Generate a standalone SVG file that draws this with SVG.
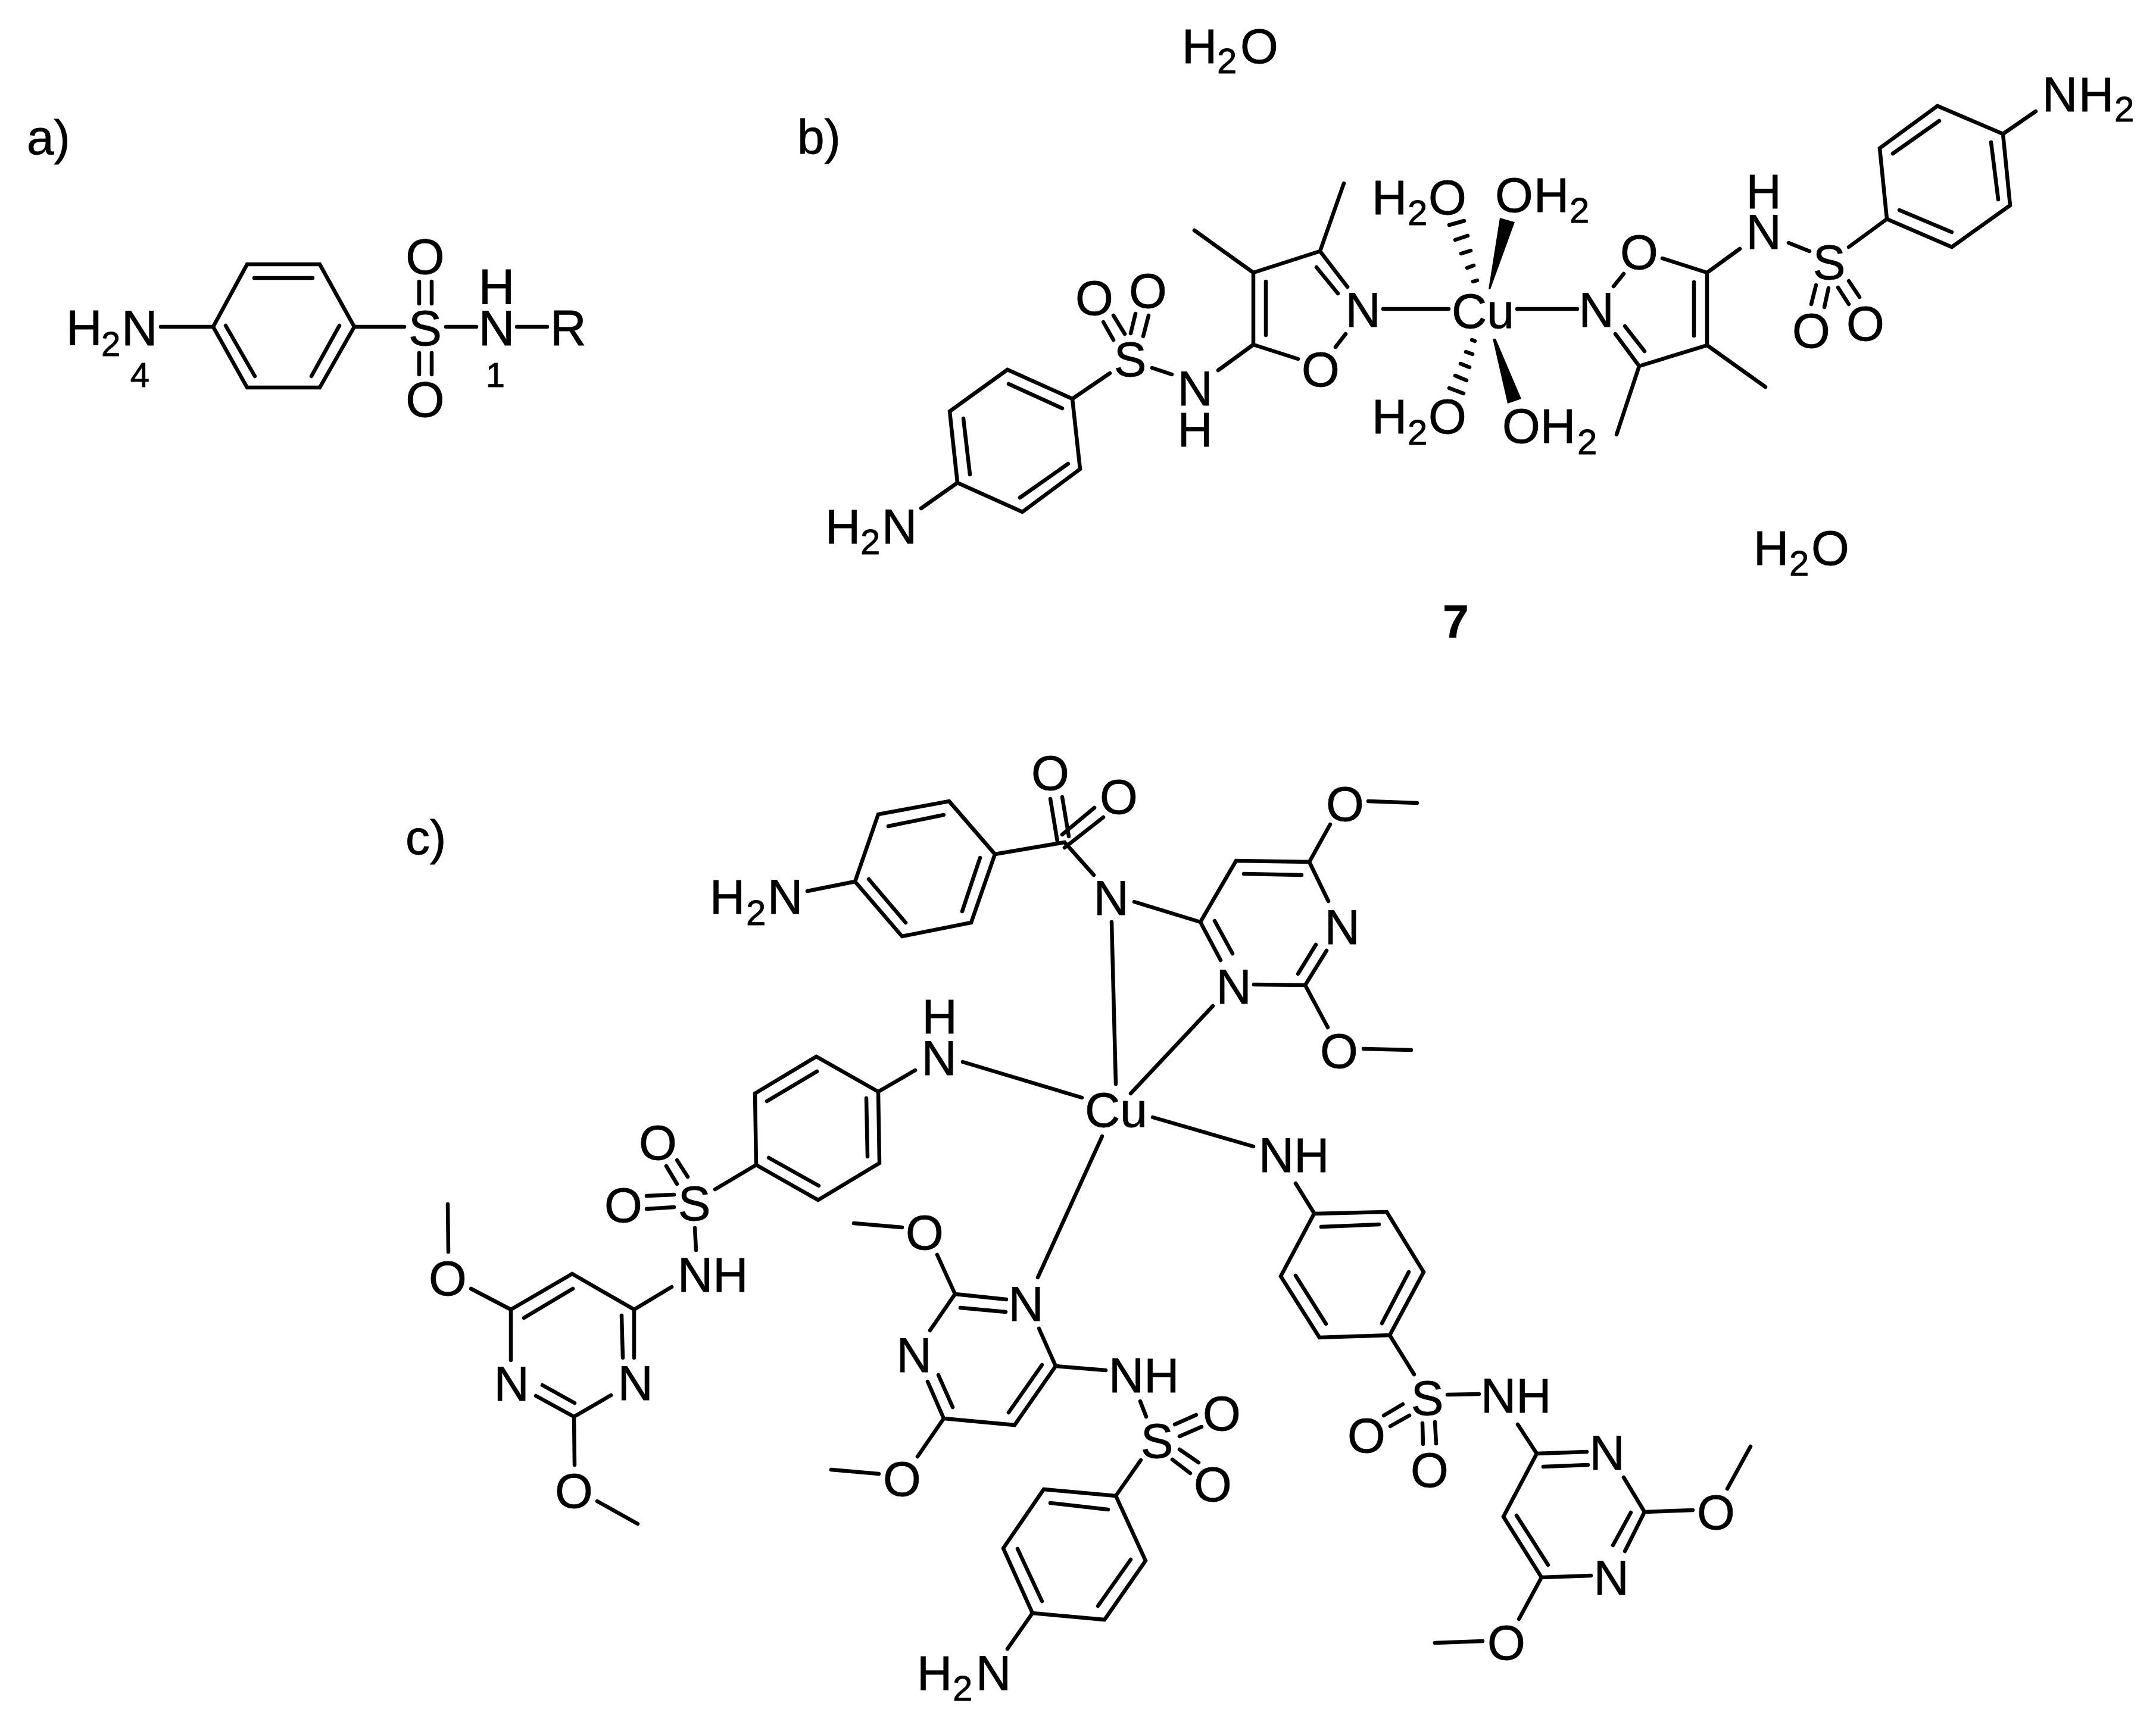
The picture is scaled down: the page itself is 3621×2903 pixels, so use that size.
<svg xmlns="http://www.w3.org/2000/svg" width="3621" height="2903" viewBox="0 0 3621 2903">
<style>
text{font-family:"Liberation Sans",Arial,sans-serif;font-size:82px;fill:#000;stroke:#000;stroke-width:.8}
.c{text-anchor:middle}
.a{font-size:84px}
.sub{font-size:60px}
.num{font-size:58px}
.bold{font-weight:700;font-size:78px}
#bonds path{fill:none;stroke:#000;stroke-width:6.5;stroke-linecap:round;stroke-linejoin:miter}
#bonds .fill{fill:#000;stroke:none}
</style>
<rect width="3621" height="2903" fill="#fff"/>
<g id="bonds">
<g id="bonds-a">
<path d="M358 549L415 444H537L595 549L537 651H415Z"/>
<path d="M427 467H525M379 547L428 632M570 547L523 632M270 549H358M595 549H679M749 549H800M868 549H919M704 473V510M725 473V510M704 593V629M725 593V629"/>
</g>
<g id="bonds-b">
<path d="M1692 621L1801 670L1814 788L1717 860L1608 811L1595 691Z"/>
<path d="M1694 645L1784 686M1618 703L1629 797M1713 836L1794 779M1608 811L1547 854M1801 670L1864 627M1853 541L1870 571M1870 530L1889 561M1907 527L1899 560M1929 530L1920 565M1935 618L1968 629M2046 622L2105 579"/>
<path d="M2180 603L2105 579V458L2217 422L2263 482M2211 449L2247 493M2126 473V563M2105 458L2006 387M2217 422L2257 308M2243 583L2260 561M2323 519H2433"/>
<path d="M2434 378L2459 371M2444 403L2465 396M2454 426L2470 421M2464 450L2475 446M2474 473L2481 471"/>
<path d="M2472 571L2477 573M2462 591L2473 595M2453 611L2468 617M2444 631L2463 639M2434 652L2458 661"/>
<path class="fill" d="M2500 486L2503 486L2544 373L2519 366Z"/>
<path class="fill" d="M2507 569L2512 569L2555 670L2532 678Z"/>
<path d="M2548 519H2649M2710 481L2727 460M2792 434L2867 458V580L2753 615L2713 561M2729 548L2762 590M2845 474V564M2867 580L2965 650M2753 615L2715 730M2867 458L2922 418M3004 408L3039 422M3105 415L3169 368"/>
<path d="M3169 368L3278 415L3376 345L3364 225L3254 178L3157 249Z"/>
<path d="M3190 353L3278 390M3356 335L3344 239M3179 258L3257 203M3364 225L3419 187M3050 479L3042 511M3071 484L3064 516M3087 483L3105 511M3105 472L3123 499"/>
</g>
<g id="bonds-c">
<path d="M1594 1346L1671 1435L1631 1550L1515 1573L1436 1481L1475 1368Z"/>
<path d="M1492 1388L1585 1369M1646 1441L1616 1531M1459 1477L1521 1550M1436 1481L1356 1497M1671 1435L1788 1415L1837 1470M1764 1342L1776 1414M1784 1339L1795 1405M1838 1357L1784 1402M1853 1373L1788 1424M1867 1549L1874 1821M1905 1515L2016 1549"/>
<path d="M2050 1613L2016 1549L2076 1446L2199 1448L2231 1514M2089 1468L2186 1470M2228 1597L2192 1655L2106 1654M2210 1587L2180 1636M2070 1602L2040 1547M2199 1448L2234 1385M2298 1346L2380 1349M2192 1655L2230 1726M2290 1762L2370 1764M2037 1690L1899 1837"/>
<path d="M1617 1784L1817 1844M1537 1798L1475 1834"/>
<path d="M1475 1834L1371 1775L1268 1837L1270 1957L1374 2016L1477 1954Z"/>
<path d="M1288 1850L1372 1800M1455 1845L1457 1943M1291 1945L1375 1992M1270 1957L1201 1998M1936 1877L2105 1926M2176 1988L2207 2038M1851 1909L1743 2146"/>
<path d="M1119 1959L1137 1989M1137 1949L1155 1977M1086 2009L1132 2007M1086 2031L1132 2028M1167 2063L1169 2100M1128 2162L1065 2200"/>
<path d="M1065 2281L1065 2200L961 2140L858 2200V2285M962 2165L880 2214M900 2345L964 2380L1026 2344M911 2327L965 2357M1044 2210L1046 2281M858 2200L791 2165M753 2103L752 2023M964 2380L965 2461M1003 2522L1071 2560"/>
<path d="M1690 2183L1604 2174L1562 2235M1613 2197L1689 2204M1558 2321L1585 2383L1704 2394L1773 2295L1745 2232M1576 2310L1600 2364M1694 2373L1750 2293M1773 2295L1857 2302M1434 2055L1515 2062M1574 2108L1604 2174M1585 2383L1541 2447M1396 2469L1476 2476M1915 2354L1925 2380M1973 2393L2009 2377M1981 2413L2018 2397M1981 2435L2013 2457M1969 2452L1999 2475M1916 2453L1874 2513"/>
<path d="M1874 2513L1753 2502L1685 2601L1734 2710L1855 2721L1924 2622Z"/>
<path d="M1764 2525L1861 2536M1709 2602L1750 2690M1844 2698L1899 2620M1734 2710L1692 2770"/>
<path d="M2207 2039L2329 2036L2391 2137L2334 2243L2216 2247L2151 2144Z"/>
<path d="M2219 2061L2316 2057M2366 2137L2321 2223M2176 2143L2227 2224M2334 2243L2375 2309M2431 2343L2484 2342M2324 2378L2356 2359M2335 2396L2367 2378M2389 2391L2390 2426M2410 2389L2412 2425M2549 2393L2581 2442"/>
<path d="M2665 2439L2581 2442L2525 2548L2589 2650L2672 2647M2592 2464L2667 2461M2727 2482L2762 2540L2729 2606M2762 2540L2843 2537M2901 2501L2940 2430M2739 2541L2709 2596M2547 2546L2600 2629M2589 2650L2551 2720M2410 2760L2490 2757"/>
</g>
</g>
<g id="part-a">
<g id="a-label"><text x="45" y="259">a)</text></g>
<g id="a-nh2"><text class="a" x="111" y="580">H<tspan class="num" x="170" y="598">2</tspan><tspan x="204" y="580">N</tspan></text></g>
<g id="a-4"><text class="num c" x="235" y="650">4</text></g>
<g id="a-s"><text class="a c" x="714" y="580">S</text></g>
<g id="a-o1"><text class="a c" x="714" y="460">O</text></g>
<g id="a-o2"><text class="a c" x="714" y="700">O</text></g>
<g id="a-h"><text class="a c" x="834" y="511">H</text></g>
<g id="a-n"><text class="a c" x="834" y="580">N</text></g>
<g id="a-1"><text class="num c" x="832" y="650">1</text></g>
<g id="a-r"><text class="a" x="924" y="580">R</text></g>
</g>
<g id="part-b">
<g id="b-label"><text x="1339" y="258">b)</text></g>
<g id="b-water1"><text x="1985" y="106">H<tspan class="sub" x="2044" y="123">2</tspan><tspan x="2083" y="106">O</tspan></text></g>
<g id="b-nh2-l"><text x="1386" y="913">H<tspan class="sub" x="1445" y="931">2</tspan><tspan x="1481" y="913">N</tspan></text></g>
<g id="b-s-l"><text class="c" x="1898" y="632">S</text></g>
<g id="b-o1"><text class="c" x="1838" y="529">O</text></g>
<g id="b-o2"><text class="c" x="1928" y="517">O</text></g>
<g id="b-n-l"><text class="c" x="2007" y="681">N</text></g>
<g id="b-h-l"><text class="c" x="2007" y="750">H</text></g>
<g id="b-o-l"><text class="c" x="2218" y="649">O</text></g>
<g id="b-n2-l"><text class="c" x="2289" y="549">N</text></g>
<g id="b-cu"><text x="2438" y="551">Cu</text></g>
<g id="b-h2o-ul"><text x="2304" y="360">H<tspan class="sub" x="2364" y="378">2</tspan><tspan x="2399" y="360">O</tspan></text></g>
<g id="b-h2o-ll"><text x="2304" y="728">H<tspan class="sub" x="2364" y="747">2</tspan><tspan x="2399" y="728">O</tspan></text></g>
<g id="b-oh2-u"><text x="2511" y="356">O<tspan x="2576">H</tspan><tspan class="sub" x="2636" y="374">2</tspan></text></g>
<g id="b-oh2-l"><text x="2523" y="744">O<tspan x="2587">H</tspan><tspan class="sub" x="2649" y="763">2</tspan></text></g>
<g id="b-n2-r"><text class="c" x="2681" y="549">N</text></g>
<g id="b-o-r"><text class="c" x="2753" y="452">O</text></g>
<g id="b-n-r"><text class="c" x="2962" y="418">N</text></g>
<g id="b-h-r"><text class="c" x="2962" y="350">H</text></g>
<g id="b-s-r"><text class="c" x="3072" y="469">S</text></g>
<g id="b-o3"><text class="c" x="3042" y="584">O</text></g>
<g id="b-o4"><text class="c" x="3133" y="572">O</text></g>
<g id="b-nh2-r"><text x="3430" y="187">N<tspan x="3491">H</tspan><tspan class="sub" x="3551" y="204">2</tspan></text></g>
<g id="b-water2"><text x="2945" y="949">H<tspan class="sub" x="3005" y="967">2</tspan><tspan x="3042" y="949">O</tspan></text></g>
<g id="b-7"><text class="bold c" x="2445" y="1071">7</text></g>
</g>
<g id="part-c">
<g id="c-label"><text x="681" y="1435">c)</text></g>
<g id="c-nh2-top"><text x="1192" y="1535">H<tspan class="sub" x="1253" y="1554">2</tspan><tspan x="1289" y="1535">N</tspan></text></g>
<g id="c-o1"><text class="c" x="1764" y="1327">O</text></g>
<g id="c-o2"><text class="c" x="1879" y="1367">O</text></g>
<g id="c-n1"><text class="c" x="1866" y="1537">N</text></g>
<g id="c-n2"><text class="c" x="2254" y="1586">N</text></g>
<g id="c-n3"><text class="c" x="2072" y="1686">N</text></g>
<g id="c-o3"><text class="c" x="2259" y="1379">O</text></g>
<g id="c-o4"><text class="c" x="2249" y="1794">O</text></g>
<g id="c-cu"><text x="1822" y="1893">Cu</text></g>
<g id="c-h5"><text class="c" x="1578" y="1736">H</text></g>
<g id="c-n5"><text class="c" x="1577" y="1806">N</text></g>
<g id="c-nh6"><text x="2114" y="1969">NH</text></g>
<g id="c-s-l"><text class="c" x="1166" y="2050">S</text></g>
<g id="c-o5"><text class="c" x="1105" y="1948">O</text></g>
<g id="c-o6"><text class="c" x="1047" y="2053">O</text></g>
<g id="c-nh-l"><text x="1138" y="2170">NH</text></g>
<g id="c-n7"><text class="c" x="859" y="2353">N</text></g>
<g id="c-n8"><text class="c" x="1067" y="2352">N</text></g>
<g id="c-o7"><text class="c" x="752" y="2176">O</text></g>
<g id="c-o8"><text class="c" x="964" y="2533">O</text></g>
<g id="c-n9"><text class="c" x="1723" y="2219">N</text></g>
<g id="c-n10"><text class="c" x="1535" y="2305">N</text></g>
<g id="c-o9"><text class="c" x="1553" y="2099">O</text></g>
<g id="c-o10"><text class="c" x="1515" y="2513">O</text></g>
<g id="c-nh-m"><text x="1862" y="2339">NH</text></g>
<g id="c-s-m"><text class="c" x="1943" y="2449">S</text></g>
<g id="c-o11"><text class="c" x="2052" y="2403">O</text></g>
<g id="c-o12"><text class="c" x="2037" y="2522">O</text></g>
<g id="c-nh2-bot"><text x="1540" y="2839">H<tspan class="sub" x="1600" y="2857">2</tspan><tspan x="1639" y="2839">N</tspan></text></g>
<g id="c-s-r"><text class="c" x="2397" y="2377">S</text></g>
<g id="c-nh-r"><text x="2487" y="2373">NH</text></g>
<g id="c-o13"><text class="c" x="2295" y="2440">O</text></g>
<g id="c-o14"><text class="c" x="2401" y="2498">O</text></g>
<g id="c-n11"><text class="c" x="2699" y="2469">N</text></g>
<g id="c-o15"><text class="c" x="2882" y="2569">O</text></g>
<g id="c-n12"><text class="c" x="2706" y="2679">N</text></g>
<g id="c-o16"><text class="c" x="2530" y="2788">O</text></g>
</g>
</svg>
